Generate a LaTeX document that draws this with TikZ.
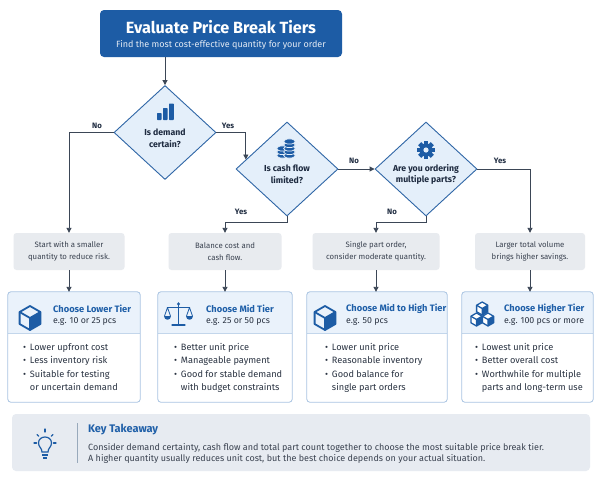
\documentclass[tikz,border=0pt]{standalone}
\usepackage{fontspec}
\setmainfont{Fira Sans}
\usetikzlibrary{shapes.geometric,arrows.meta,calc}
\definecolor{tblue}{HTML}{1D5CA5}
\definecolor{dborder}{HTML}{2F66A6}
\definecolor{dfill}{HTML}{E4EFFA}
\definecolor{lnc}{HTML}{3B4656}
\definecolor{txtd}{HTML}{1E2B40}
\definecolor{gfill}{HTML}{E8EBEF}
\definecolor{gtxt}{HTML}{3A4250}
\definecolor{cardb}{HTML}{A9C4E2}
\definecolor{hdrfill}{HTML}{EAF2FB}
\definecolor{ctitle}{HTML}{1F5FA8}
\definecolor{btxt}{HTML}{2A3342}
\definecolor{kfill}{HTML}{E7EBF1}
\definecolor{icob}{HTML}{1D5CA5}
\newcommand\cardhead[1]{%
  \begin{scope}
    \clip[rounded corners=3pt] (#1.north west) rectangle (#1.south east);
    \fill[hdrfill] (#1.north west) rectangle ($(#1.north east)+(0,41)$);
  \end{scope}
  \draw[cardb!70, line width=0.5pt] ($(#1.north west)+(0,41)$) -- ($(#1.north east)+(0,41)$);
  \draw[cardb, line width=0.8pt, rounded corners=3pt] (#1.north west) rectangle (#1.south east);}
\newcommand\cubeicon[2]{%
  \fill[icob] (#1,#2) -- (#1+10.4,#2-6) -- (#1+10.4,#2+6) -- (#1,#2+12) -- cycle;
  \draw[icob, line width=1.8pt, line join=round] (#1,#2-12) -- (#1+10.4,#2-6) -- (#1+10.4,#2+6) -- (#1,#2+12) -- (#1-10.4,#2+6) -- (#1-10.4,#2-6) -- cycle;
  \draw[icob, line width=1.8pt, line join=round] (#1-10.4,#2-6) -- (#1,#2) -- (#1+10.4,#2-6) (#1,#2) -- (#1,#2+12);}
\newcommand\smallcube[2]{%
  \fill[white] (#1,#2-6.5) -- (#1+5.6,#2-3.25) -- (#1+5.6,#2+3.25) -- (#1,#2+6.5) -- (#1-5.6,#2+3.25) -- (#1-5.6,#2-3.25) -- cycle;
  \fill[icob] (#1,#2) -- (#1+5.6,#2-3.25) -- (#1+5.6,#2+3.25) -- (#1,#2+6.5) -- cycle;
  \draw[icob, line width=1.3pt, line join=round] (#1,#2-6.5) -- (#1+5.6,#2-3.25) -- (#1+5.6,#2+3.25) -- (#1,#2+6.5) -- (#1-5.6,#2+3.25) -- (#1-5.6,#2-3.25) -- cycle;
  \draw[icob, line width=1.3pt, line join=round] (#1-5.6,#2-3.25) -- (#1,#2) -- (#1+5.6,#2-3.25) (#1,#2) -- (#1,#2+6.5);}
\begin{document}
\begin{tikzpicture}[x=1pt,y=-1pt,
  titlebox/.style={draw=none, fill=tblue, rounded corners=4pt, minimum width=242pt, minimum height=47pt, inner sep=0pt},
  dia/.style={diamond, draw=dborder, fill=dfill, line width=0.9pt, minimum width=102pt, minimum height=94pt, inner sep=0pt},
  dtext/.style={font=\bfseries\fontsize{8.7}{11.6}\selectfont, text=txtd, align=center, inner sep=0pt},
  lab/.style={font=\bfseries\fontsize{7.8}{9}\selectfont, text=txtd, inner sep=0pt},
  gbox/.style={fill=gfill, rounded corners=3pt, minimum height=37pt, inner sep=0pt},
  gtext/.style={font=\fontsize{7.8}{12}\selectfont, text=gtxt, align=center, inner sep=0pt},
  card/.style={fill=white, draw=none, rounded corners=3pt, minimum height=110pt, inner sep=0pt},
  ctit/.style={font=\bfseries\fontsize{9.3}{11}\selectfont, text=ctitle, anchor=west, inner sep=0pt},
  csub/.style={font=\fontsize{8.8}{11}\selectfont, text=btxt, anchor=west, inner sep=0pt},
  blist/.style={font=\fontsize{9.2}{13.3}\selectfont, text=btxt, anchor=north west, inner sep=0pt, align=left},
  ktline/.style={font=\fontsize{9}{11}\selectfont, text=gtxt, anchor=base west, inner sep=0pt},
  arr/.style={draw=lnc, line width=0.9pt, -{Triangle[length=5pt,width=5pt]}},
  ln/.style={draw=lnc, line width=0.9pt}]
\useasboundingbox (0,0) rectangle (600,480);
\fill[white] (0,0) rectangle (600,480);

% title
\node[titlebox] (title) at (221,33.5) {};
\node[font=\bfseries\fontsize{16.2}{18}\selectfont, text=white, inner sep=0pt] (tt) at (221,27) {Evaluate Price Break Tiers};
\node[font=\fontsize{9}{11}\selectfont, text=white!88!tblue, inner sep=0pt] (ts) at (221,44.5) {Find the most cost-effective quantity for your order};

% diamonds
\node[dia] (d1) at (165,132.5) {};
\node[dia] (d2) at (287,169) {};
\node[dia] (d3) at (426,169) {};
\node[dtext] (d1t) at (165,138.5) {Is demand\\certain?};
\node[dtext] (d2t) at (287,174.5) {Is cash flow\\limited?};
\node[dtext] (d3t) at (426,174.5) {Are you ordering\\multiple parts?};

% icons in diamonds
\fill[icob, rounded corners=0.6pt] (157,113) rectangle (161.5,120);
\fill[icob, rounded corners=0.6pt] (163,108) rectangle (167.5,120);
\fill[icob, rounded corners=0.6pt] (169,103.5) rectangle (173.8,120);
% coins
\foreach \yy in {155.5,152,148.5} {\filldraw[fill=icob, draw=dfill, line width=0.7pt] (282.5,\yy) ellipse (5.8pt and 2.6pt);}
\foreach \yy in {155.5,152,148.5,145,141.5} {\filldraw[fill=icob, draw=dfill, line width=0.7pt] (289.5,\yy) ellipse (5.8pt and 2.6pt);}
% gear
\foreach \a in {0,45,...,315} {\fill[icob, rotate around={\a:(426,150)}] (423.8,141) rectangle (428.2,145);}
\fill[icob] (426,150) circle (6.6pt);
\fill[dfill] (426,150) circle (2.6pt);

% labels
\node[lab] (l1) at (97,126) {No};
\node[lab] (l2) at (228,126) {Yes};
\node[lab] (l3) at (241,212) {Yes};
\node[lab] (l4) at (354,161) {No};
\node[lab] (l5) at (392,212) {No};
\node[lab] (l6) at (500,161) {Yes};

% gray boxes
\node[gbox, minimum width=111pt] (g1) at (69,251.5) {};
\node[gbox, minimum width=113pt] (g2) at (225,251.5) {};
\node[gbox, minimum width=127pt] (g3) at (376,251.5) {};
\node[gbox, minimum width=110pt] (g4) at (530,251.5) {};
\node[gtext] at (g1) {Start with a smaller\\quantity to reduce risk.};
\node[gtext] at (g2) {Balance cost and\\cash flow.};
\node[gtext] at (g3) {Single part order,\\consider moderate quantity.};
\node[gtext] at (g4) {Larger total volume\\brings higher savings.};

% connectors
\draw[arr] (title.south -| d1.north) -- (d1.north);
\draw[arr] (d1.west) -| (g1.north);
\coordinate (d2in) at ($(d2.west)!0.2!(d2.north)$);
\draw[arr] (d1.east) -| (d2in);
\draw[arr] (d2.south) -- ++(0,6) -| (g2.north);
\draw[arr] (d2.east) -- (d3.west);
\draw[arr] (d3.south) -- ++(0,6) -| (g3.north);
\draw[arr] (d3.east) -| (g4.north);

% cards
\node[card, minimum width=132pt] (c1) at (74,347) {};
\node[card, minimum width=134pt] (c2) at (225,347) {};
\node[card, minimum width=140pt] (c3) at (377,347) {};
\node[card, minimum width=131pt] (c4) at (527.5,347) {};
\cardhead{c1}\cardhead{c2}\cardhead{c3}\cardhead{c4}

\draw[arr] (g1.south) -- (g1.south |- c1.north);
\draw[arr] (g2.south) -- (g2.south |- c2.north);
\draw[arr] (g3.south) -- (g3.south |- c3.north);
\draw[arr] (g4.south) -- (g4.south |- c4.north);

% card icons
\cubeicon{30}{318}
\cubeicon{325}{318}
% scales
\begin{scope}[icob, line width=1.3pt, line cap=round]
  \draw (178.5,303) -- (178.5,324.5);
  \draw (172,325) -- (185,325);
  \draw (167.5,307.5) -- (189.5,307.5);
  \fill[icob] (178.5,304) circle (1.6pt);
  \draw[line width=0.8pt] (167.5,307.5) -- (164.5,316) (167.5,307.5) -- (170.5,316);
  \draw[line width=0.8pt] (189.5,307.5) -- (186.5,316) (189.5,307.5) -- (192.5,316);
  \fill[icob] (164,316) .. controls (164,320.5) and (171,320.5) .. (171,316) -- cycle;
  \fill[icob] (186,316) .. controls (186,320.5) and (193,320.5) .. (193,316) -- cycle;
\end{scope}
% three cubes
\smallcube{476.5}{319.5}
\smallcube{488}{319.5}
\smallcube{482.2}{308.5}

% card texts
\node[ctit] at (53,309) {Choose Lower Tier};
\node[csub] at (53,321.5) {e.g. 10 or 25 pcs};
\node[ctit] at (206,309) {Choose Mid Tier};
\node[csub] at (206,321.5) {e.g. 25 or 50 pcs};
\node[ctit] at (346,309) {Choose Mid to High Tier};
\node[csub] at (346,321.5) {e.g. 50 pcs};
\node[ctit] at (504,309) {Choose Higher Tier};
\node[csub] at (504,321.5) {e.g. 100 pcs or more};

\node[blist] at (23,341) {\begin{tabular}{@{}l@{\hspace{3.8pt}}l@{}}\textbullet & Lower upfront cost\\ \textbullet & Less inventory risk\\ \textbullet & Suitable for testing\\ & or uncertain demand\end{tabular}};
\node[blist] at (174,341) {\begin{tabular}{@{}l@{\hspace{3.8pt}}l@{}}\textbullet & Better unit price\\ \textbullet & Manageable payment\\ \textbullet & Good for stable demand\\ & with budget constraints\end{tabular}};
\node[blist] at (325,341) {\begin{tabular}{@{}l@{\hspace{3.8pt}}l@{}}\textbullet & Lower unit price\\ \textbullet & Reasonable inventory\\ \textbullet & Good balance for\\ & single part orders\end{tabular}};
\node[blist] at (475,341) {\begin{tabular}{@{}l@{\hspace{3.8pt}}l@{}}\textbullet & Lowest unit price\\ \textbullet & Better overall cost\\ \textbullet & Worthwhile for multiple\\ & parts and long-term use\end{tabular}};

% key takeaway
\node[fill=kfill, rounded corners=4pt, minimum width=578pt, minimum height=57pt, inner sep=0pt] (kt) at (301,442.5) {};
\draw[cardb!60!gray, line width=0.6pt] (77,423) -- (77,463);
\node[font=\bfseries\fontsize{11}{12}\selectfont, text=ctitle, anchor=west, inner sep=0pt] (kth) at (88,430) {Key Takeaway};
\node[ktline] (kt1) at (88,450) {Consider demand certainty, cash flow and total part count together to choose the most suitable price break tier.};
\node[ktline] (kt2) at (88,461.5) {A higher quantity usually reduces unit cost, but the best choice depends on your actual situation.};
% bulb
\begin{scope}[icob, line width=1.2pt, line cap=round]
  \draw (42,452) .. controls (42,448) and (38.5,447) .. (38.5,443) .. controls (38.5,435) and (51.5,435) .. (51.5,443) .. controls (51.5,447) and (48,448) .. (48,452) -- cycle;
  \fill (42,453.5) rectangle (48,456);
  \fill (43.2,457) rectangle (46.8,459);
  \draw (45,429) -- (45,432);
  \draw (34,443) -- (36.5,443);
  \draw (53.5,443) -- (56,443);
  \draw (37,434.5) -- (38.8,436.3);
  \draw (53,434.5) -- (51.2,436.3);
\end{scope}
\end{tikzpicture}
\end{document}
